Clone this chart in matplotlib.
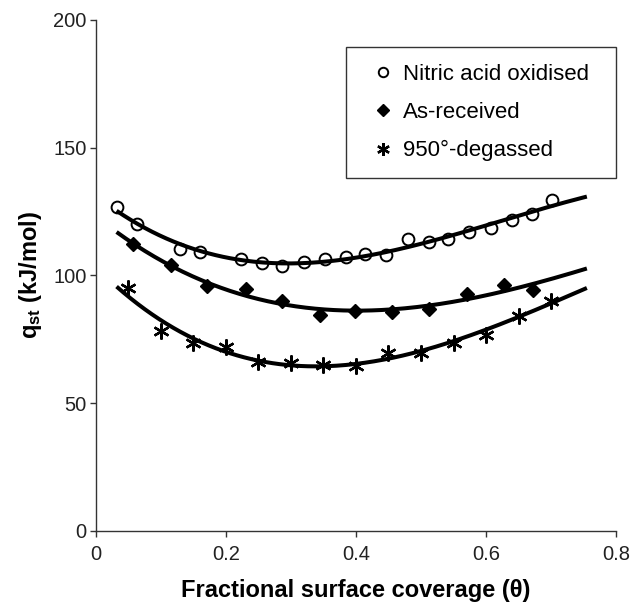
import numpy as np
import matplotlib
matplotlib.use("Agg")
import matplotlib.pyplot as plt

plt.rcParams["font.family"] = ["Liberation Sans", "DejaVu Sans"]
plt.rcParams["mathtext.fontset"] = "custom"
plt.rcParams["mathtext.bf"] = "Liberation Sans:bold"
plt.rcParams["mathtext.rm"] = "Liberation Sans"

# data
theta_nitric = [0.032, 0.064, 0.129, 0.160, 0.223, 0.256, 0.287, 0.320, 0.352, 0.384,
                0.414, 0.446, 0.480, 0.513, 0.542, 0.574, 0.607, 0.640, 0.670, 0.701]
q_nitric = [126.6, 120.1, 110.2, 109.2, 106.5, 105.0, 103.7, 105.4, 106.3, 107.1,
            108.3, 107.8, 114.2, 113.0, 114.3, 116.8, 118.7, 121.5, 124.1, 129.5]

theta_asrec = [0.058, 0.115, 0.171, 0.231, 0.287, 0.344, 0.399, 0.456, 0.513, 0.570, 0.628, 0.672]
q_asrec = [112.2, 104.0, 95.8, 94.7, 89.9, 84.6, 86.1, 85.8, 86.8, 92.8, 96.3, 94.4]

theta_950 = [0.05, 0.10, 0.15, 0.20, 0.25, 0.30, 0.35, 0.40, 0.45, 0.50, 0.55, 0.60, 0.65, 0.70]
q_950 = [95.0, 78.2, 73.6, 72.1, 66.3, 65.9, 65.0, 64.6, 69.8, 69.8, 73.5, 76.8, 84.0, 90.1]

labels = ["Nitric acid oxidised", "As-received", "950°-degassed"]
fit_range = (0.032, 0.755)

fig = plt.figure(figsize=(6.3, 6.02), dpi=100)
ax = fig.add_axes([0.152, 0.118, 0.826, 0.849])

series = [
    (theta_nitric, q_nitric, dict(marker="o", markersize=8.5, markerfacecolor="none",
                                  markeredgecolor="black", markeredgewidth=1.4)),
    (theta_asrec, q_asrec, dict(marker="D", markersize=7.5, markerfacecolor="black",
                                markeredgecolor="black")),
    (theta_950, q_950, dict(marker=(6, 2, 0), markersize=11.5, markeredgecolor="black",
                            markeredgewidth=1.7)),
]

handles = []
for (x, y, mstyle), lab in zip(series, labels):
    h, = ax.plot(x, y, linestyle="none", label=lab, **mstyle)
    handles.append(h)
    # trendline: polynomial fit of the points
    coef = np.polyfit(x, y, 3)
    xf = np.linspace(fit_range[0], fit_range[1], 200)
    ax.plot(xf, np.polyval(coef, xf), color="black", lw=2.9, solid_capstyle="butt")

ax.set_xlim(0, 0.8)
ax.set_ylim(0, 200)
ax.set_xticks([0, 0.2, 0.4, 0.6, 0.8])
ax.set_xticklabels(["0", "0.2", "0.4", "0.6", "0.8"])
ax.set_yticks([0, 50, 100, 150, 200])

for s in ["top", "right"]:
    ax.spines[s].set_visible(False)
for s in ["left", "bottom"]:
    ax.spines[s].set_color("#333333")
    ax.spines[s].set_linewidth(1.0)
ax.tick_params(direction="out", length=4, width=1.0, color="#333333",
               labelsize=14.5, labelcolor="#222222")
ax.tick_params(axis="x", pad=6)
ax.tick_params(axis="y", pad=2.5)

ax.set_xlabel("Fractional surface coverage (θ)", fontsize=17, fontweight="bold", labelpad=11)
ax.set_ylabel(r"$\mathbf{q_{st}}$ (kJ/mol)", fontsize=17, fontweight="bold", labelpad=7)

leg = ax.legend(handles=handles, loc="upper right", bbox_to_anchor=(0.481, 0.0, 0.519, 0.947),
                mode="expand", borderaxespad=0, fontsize=16, frameon=True, fancybox=False,
                handlelength=1.8, handletextpad=0.0, labelspacing=0.78,
                borderpad=0.75, markerscale=0.8)
leg.get_frame().set_edgecolor("black")
leg.get_frame().set_linewidth(1.0)

fig.savefig("out.png", dpi=100)
